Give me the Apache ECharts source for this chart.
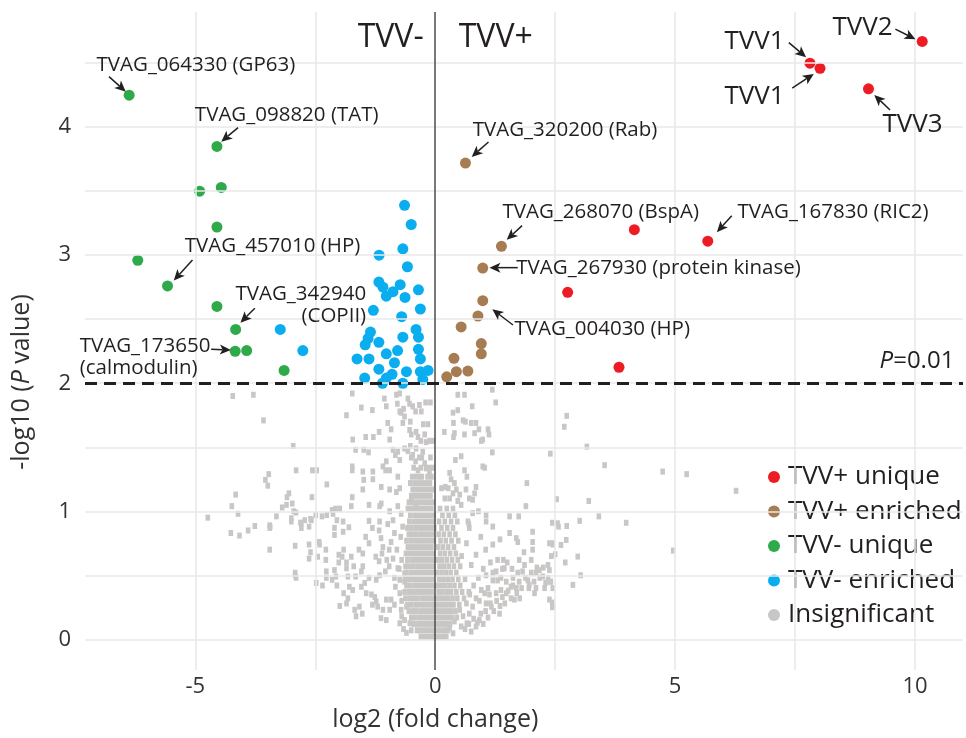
<!DOCTYPE html>
<html>
<head>
<meta charset="utf-8">
<script src="https://cdn.jsdelivr.net/npm/echarts@6/dist/echarts.min.js"></script>
<style>
  html, body { margin: 0; padding: 0; background: #ffffff; }
  #chart { width: 966px; height: 738px; }
</style>
</head>
<body>
<div id="chart"></div>
<script>
const FONT = '"Open Sans", "DejaVu Sans", sans-serif';
const INK = '#231f20';

// Group names, in legend order
const groupNames = ['TVV+ unique', 'TVV+ enriched', 'TVV- unique', 'TVV- enriched', 'Insignificant'];
const groupColors = ['#ed1c24', '#a67c52', '#2eaa4a', '#0aaeef', '#c9c7c6'];

// [log2 fold change, -log10 P]
const tvvPlusUnique = [[10.15,4.67],[7.81,4.50],[8.02,4.46],[9.03,4.30],[4.15,3.20],[5.68,3.11],[2.76,2.71],[3.83,2.125]];
const tvvPlusEnriched = [[0.63,3.72],[1.38,3.07],[0.99,2.90],[0.99,2.645],[0.89,2.525],[0.54,2.44],[0.96,2.31],[0.96,2.23],[0.39,2.195],[0.44,2.09],[0.68,2.095],[0.24,2.05]];
const tvvMinusUnique = [[-6.38,4.25],[-4.55,3.85],[-4.91,3.50],[-4.46,3.53],[-4.55,3.22],[-6.20,2.96],[-5.58,2.76],[-4.55,2.60],[-4.16,2.42],[-4.17,2.25],[-3.93,2.255],[-3.15,2.10]];
const tvvMinusEnriched = [[-0.64,3.39],[-0.50,3.24],[-1.17,3.00],[-0.675,3.05],[-0.58,2.91],[-1.175,2.79],[-1.09,2.75],[-1.02,2.68],[-0.88,2.715],[-0.73,2.77],[-0.63,2.67],[-0.35,2.73],[-0.31,2.58],[-1.29,2.57],[-0.70,2.52],[-0.40,2.42],[-0.35,2.36],[-0.675,2.36],[-1.35,2.40],[-1.40,2.35],[-1.46,2.30],[-1.175,2.32],[-0.785,2.255],[-0.35,2.265],[-1.02,2.23],[-1.63,2.19],[-1.38,2.19],[-0.85,2.16],[-0.31,2.19],[-1.175,2.11],[-0.60,2.09],[-0.31,2.09],[-0.15,2.10],[-1.47,2.04],[-0.90,2.07],[-1.02,2.04],[-0.675,2.00],[-1.10,2.00],[-0.26,2.03],[-3.23,2.42],[-2.76,2.255]];
const insignificant = [
  [-4.22,1.90],[-3.79,1.91],[-3.58,1.71],[-2.96,1.51],[-2.90,1.32],[-2.56,1.32],[-2.47,1.32],[-3.47,1.29],[-3.54,1.245],[-3.49,1.20],[-2.26,1.21],[-4.16,1.13],[-3.05,1.14],[-3.09,1.11],[-2.57,1.11],[-3.10,1.05],[-3.19,1.03],[-2.98,1.06],[-2.95,1.00],[-2.90,0.99],[-4.24,1.04],[-4.11,0.98],[-4.74,0.95],[-3.31,0.96],[-2.49,0.97],[-2.36,0.96],[-2.26,0.97],
  [-4.26,0.83],[-4.08,0.81],[-3.90,0.85],[-3.76,0.885],[-3.45,0.70],[-2.92,0.50],[-3.44,0.88],[-2.79,0.91],[-2.58,0.93],[-2.13,0.98],
  [-3.45,0.89],[-3.45,0.87],[-3.0,0.945],[-3.0,0.92],[-2.92,0.73],[-2.92,0.52],[-2.90,0.48],[-2.81,0.91],[-2.79,0.87],[-2.72,0.93],[-2.60,0.94],[-2.63,0.88],[-2.63,0.74],[-2.60,0.68],[-2.63,0.63],[-2.45,0.645],[-2.42,0.76],[-2.41,0.74],[-2.48,0.44],[-2.35,0.42],[-2.28,0.70],[-2.28,0.62],[-2.27,0.53],[-2.27,0.48],
  [-1.73,1.92],[-1.85,1.75],[-1.54,1.81],[-1.31,1.79],[-1.06,1.88],[-1.02,1.82],[-0.81,1.91],[-0.74,1.92],[-0.79,1.84],[-0.74,1.78],[-0.71,1.77],[-0.66,1.80],[-0.64,1.74],[-0.57,1.88],[-0.535,1.84],[-0.47,1.82],[-0.41,1.78],[-0.33,1.83],[-0.29,1.78],
  [-1.72,1.56],[-1.45,1.58],[-1.29,1.58],[-1.17,1.62],[-0.99,1.69],[-0.92,1.64],[-0.95,1.56],[-0.675,1.69],[-0.52,1.70],[-0.535,1.635],[-0.50,1.60],[-0.40,1.62],[-0.36,1.58],[-0.22,1.60],[-0.19,1.54],
  [-1.66,1.48],[-1.49,1.48],[-1.39,1.46],[-1.73,1.35],[-1.73,1.32],[-1.51,1.31],[-1.30,1.31],[-1.30,1.25],[-1.09,1.35],[-1.035,1.32],[-0.95,1.32],[-1.02,1.39],
  [-0.88,1.48],[-0.83,1.44],[-0.74,1.40],[-0.78,1.465],[-0.64,1.49],[-0.57,1.47],[-0.52,1.51],[-0.40,1.49],[-0.47,1.44],[-0.41,1.39],[-0.33,1.42],[-0.26,1.465],[-0.22,1.375],[-0.19,1.335],[-0.36,1.32],[-0.33,1.27],[-0.12,1.30],
  [-1.73,1.11],[-1.51,1.17],[-1.49,1.245],[-1.125,1.19],[-0.95,1.17],[-0.81,1.15],[-0.74,1.18],[-0.78,1.27],
  [-1.99,1.02],[-2.15,1.01],[-2.08,1.02],[-1.75,1.04],[-1.38,1.05],[-1.16,1.04],[-1.125,1.06],[-0.95,1.00],[-0.78,1.04],[-0.71,0.98],[-0.57,1.02],[-0.50,1.09],[-0.40,1.06],
  [-2.10,0.87],[-2.10,0.815],[-2.05,0.93],[-1.92,0.92],[-1.92,0.84],[-1.80,0.875],[-1.91,0.70],[-2.01,0.66],[-1.94,0.645],[-2.01,0.60],[-1.85,0.60],[-2.10,0.54],[-2.07,0.49],[-1.85,0.555],[-1.82,0.49],[-1.75,0.645],[-1.70,0.57],[-1.66,0.49],[-1.54,0.53],[-1.51,0.57],[-1.59,0.70],[-1.51,0.67],[-1.45,0.80],[-1.38,0.75],[-1.38,0.925],[-1.31,0.87],[-1.17,0.85],[-1.16,0.92],[-1.13,0.79],[-1.09,0.72],[-1.17,0.61],[-1.24,0.645],[-1.11,0.67],[-1.01,0.62],[-0.96,0.70],[-0.88,0.63],[-0.92,0.76],[-0.85,0.83],[-0.88,0.93],[-0.99,0.90],
  [-0.78,0.555],[-0.85,0.48],[-0.74,0.465],[-0.74,0.36],[-0.83,0.41],[-0.64,0.45],[-0.64,0.515],[-0.96,0.57],[-1.04,0.53],[-1.16,0.50],[-1.23,0.465],[-1.38,0.48],[-1.47,0.44],[-1.54,0.41],[-1.44,0.36],[-1.33,0.35],[-1.26,0.33],[-1.23,0.295],[-1.31,0.27],[-1.20,0.255],[-1.09,0.23],[-1.02,0.31],[-0.92,0.31],[-0.85,0.27],[-0.95,0.23],[-1.13,0.165],[-1.02,0.15],[-0.71,0.23],[-0.60,0.255],[-0.64,0.15],[-0.53,0.125],[-0.74,0.125],[-0.50,0.07],[-0.60,0.05],[-1.58,0.255],[-1.68,0.23],[-1.65,0.18],[-1.52,0.20],[-1.85,0.28],[-1.99,0.26],[-1.91,0.36],[-2.05,0.42],[-1.79,0.41],[-1.72,0.385],[-1.82,0.32],[-2.15,0.465],
  [-0.70,0.30],[-0.75,0.55],[-0.70,0.62],[-0.72,0.80],[-0.68,0.88],[-0.80,0.70],[-0.70,0.18],[-0.66,0.08],
  [-0.30,0.02],[-0.22,0.02],[-0.15,0.02],[-0.08,0.02],[-0.02,0.02],
  [-0.38,0.07],[-0.31,0.07],[-0.24,0.07],[-0.17,0.07],[-0.10,0.07],[-0.04,0.07],
  [-0.45,0.12],[-0.37,0.12],[-0.29,0.12],[-0.21,0.12],[-0.13,0.12],[-0.06,0.12],
  [-0.50,0.17],[-0.42,0.17],[-0.33,0.17],[-0.26,0.17],[-0.18,0.17],[-0.11,0.17],[-0.03,0.17],
  [-0.55,0.22],[-0.46,0.22],[-0.39,0.22],[-0.30,0.22],[-0.22,0.22],[-0.14,0.22],[-0.06,0.22],
  [-0.58,0.27],[-0.50,0.27],[-0.41,0.27],[-0.34,0.27],[-0.25,0.27],[-0.17,0.27],[-0.09,0.27],[-0.02,0.27],
  [-0.62,0.32],[-0.53,0.32],[-0.45,0.32],[-0.37,0.32],[-0.28,0.32],[-0.20,0.32],[-0.12,0.32],[-0.05,0.32],
  [-0.64,0.37],[-0.55,0.37],[-0.47,0.37],[-0.39,0.37],[-0.31,0.37],[-0.23,0.37],[-0.15,0.37],[-0.07,0.37],
  [-0.60,0.42],[-0.52,0.42],[-0.43,0.42],[-0.35,0.42],[-0.27,0.42],[-0.19,0.42],[-0.11,0.42],[-0.03,0.42],
  [-0.63,0.47],[-0.55,0.47],[-0.46,0.47],[-0.38,0.47],[-0.30,0.47],[-0.22,0.47],[-0.14,0.47],[-0.06,0.47],
  [-0.60,0.52],[-0.51,0.52],[-0.42,0.52],[-0.34,0.52],[-0.26,0.52],[-0.18,0.52],[-0.10,0.52],[-0.03,0.52],
  [-0.62,0.57],[-0.54,0.57],[-0.46,0.57],[-0.37,0.57],[-0.29,0.57],[-0.21,0.57],[-0.13,0.57],[-0.05,0.57],
  [-0.58,0.62],[-0.49,0.62],[-0.41,0.62],[-0.33,0.62],[-0.25,0.62],[-0.17,0.62],[-0.09,0.62],[-0.02,0.62],
  [-0.61,0.67],[-0.52,0.67],[-0.44,0.67],[-0.36,0.67],[-0.28,0.67],[-0.20,0.67],[-0.12,0.67],[-0.04,0.67],
  [-0.57,0.72],[-0.48,0.72],[-0.40,0.72],[-0.32,0.72],[-0.24,0.72],[-0.16,0.72],[-0.08,0.72],
  [-0.60,0.77],[-0.51,0.77],[-0.43,0.77],[-0.35,0.77],[-0.27,0.77],[-0.19,0.77],[-0.11,0.77],[-0.03,0.77],
  [-0.55,0.82],[-0.47,0.82],[-0.39,0.82],[-0.30,0.82],[-0.22,0.82],[-0.14,0.82],[-0.06,0.82],
  [-0.58,0.87],[-0.50,0.87],[-0.41,0.87],[-0.33,0.87],[-0.25,0.87],[-0.17,0.87],[-0.09,0.87],[-0.02,0.87],
  [-0.54,0.92],[-0.45,0.92],[-0.37,0.92],[-0.29,0.92],[-0.21,0.92],[-0.13,0.92],[-0.05,0.92],
  [-0.52,0.97],[-0.43,0.97],[-0.35,0.97],[-0.27,0.97],[-0.19,0.97],[-0.11,0.97],[-0.03,0.97],
  [-0.48,1.02],[-0.40,1.02],[-0.32,1.02],[-0.24,1.02],[-0.16,1.02],[-0.08,1.02],
  [-0.55,1.07],[-0.46,1.07],[-0.37,1.07],[-0.29,1.07],[-0.21,1.07],[-0.13,1.07],[-0.05,1.07],
  [-0.50,1.12],[-0.42,1.12],[-0.34,1.12],[-0.26,1.12],[-0.18,1.12],[-0.10,1.12],
  [-0.47,1.17],[-0.39,1.17],[-0.31,1.17],[-0.23,1.17],[-0.15,1.17],[-0.07,1.17],
  [-0.52,1.22],[-0.43,1.22],[-0.35,1.22],[-0.27,1.22],[-0.19,1.22],[-0.11,1.22],
  [-0.48,1.27],[-0.40,1.27],[-0.28,1.27],[-0.16,1.27],[-0.08,1.27],
  [-0.45,1.34],[-0.30,1.34],[-0.14,1.34],[-0.06,1.34],[-0.50,1.42],[-0.28,1.42],[-0.10,1.42],
  [-0.30,1.55],[-0.12,1.55],[-0.05,1.55],[-0.25,1.68],[-0.15,1.68],[-0.20,1.85],[-0.10,1.85],
  [0.03,0.02],[0.10,0.02],[0.17,0.02],
  [0.05,0.07],[0.12,0.07],[0.19,0.07],[0.26,0.07],
  [0.03,0.12],[0.10,0.12],[0.17,0.12],[0.24,0.12],[0.31,0.12],
  [0.06,0.17],[0.13,0.17],[0.20,0.17],[0.28,0.17],[0.35,0.17],[0.45,0.17],
  [0.03,0.22],[0.10,0.22],[0.17,0.22],[0.25,0.22],[0.33,0.22],[0.42,0.22],
  [0.06,0.27],[0.14,0.27],[0.22,0.27],[0.30,0.27],[0.38,0.27],[0.50,0.27],
  [0.03,0.32],[0.11,0.32],[0.19,0.32],[0.27,0.32],[0.36,0.32],[0.46,0.32],[0.60,0.32],
  [0.07,0.37],[0.15,0.37],[0.24,0.37],[0.33,0.37],[0.44,0.37],[0.56,0.37],[0.70,0.37],
  [0.04,0.42],[0.12,0.42],[0.21,0.42],[0.30,0.42],[0.40,0.42],[0.52,0.42],
  [0.08,0.47],[0.17,0.47],[0.26,0.47],[0.36,0.47],[0.48,0.47],[0.62,0.47],
  [0.04,0.52],[0.13,0.52],[0.22,0.52],[0.32,0.52],[0.44,0.52],
  [0.09,0.57],[0.18,0.57],[0.28,0.57],[0.39,0.57],[0.52,0.57],
  [0.05,0.62],[0.14,0.62],[0.24,0.62],[0.35,0.62],[0.47,0.62],
  [0.10,0.67],[0.20,0.67],[0.31,0.67],[0.43,0.67],
  [0.06,0.72],[0.16,0.72],[0.27,0.72],[0.39,0.72],
  [0.11,0.77],[0.22,0.77],[0.34,0.77],[0.48,0.77],
  [0.07,0.82],[0.18,0.82],[0.30,0.82],[0.42,0.82],
  [0.13,0.87],[0.25,0.87],[0.37,0.87],
  [0.08,0.92],[0.20,0.92],[0.33,0.92],[0.46,0.92],
  [0.15,0.97],[0.28,0.97],[0.41,0.97],
  [0.10,1.02],[0.24,1.02],[0.37,1.02],[0.20,1.10],[0.30,1.10],[0.13,1.18],[0.27,1.18],
  [0.47,1.91],[0.61,1.91],[1.19,1.95],[1.26,1.85],[0.77,1.82],[0.37,1.77],[0.47,1.79],[0.19,1.62],[0.38,1.69],[0.40,1.61],[0.38,1.58],[0.58,1.71],[0.63,1.70],[0.61,1.60],[0.75,1.69],[0.85,1.69],[0.91,1.64],[0.82,1.61],[0.99,1.56],[0.96,1.55],[1.10,1.64],[1.12,1.60],[1.19,1.46],
  [0.42,1.40],[0.54,1.43],[0.30,1.30],[0.61,1.32],[0.66,1.27],[0.33,1.25],[0.40,1.22],[0.21,1.19],[0.64,1.17],[0.85,1.19],[0.82,1.14],[0.99,1.35],[1.03,1.34],[0.44,1.17],[0.51,1.13],[0.37,1.14],[0.47,1.08],[0.54,1.05],[0.71,1.10],[0.78,1.09],[1.91,1.22],[1.89,1.04],[2.40,1.45],
  [0.78,0.985],[1.06,0.97],[1.06,0.92],[1.55,0.96],[1.74,0.96],[0.68,0.92],[0.71,0.87],[1.20,0.74],[1.55,0.83],[1.69,0.79],[1.72,0.76],[2.03,0.84],[2.03,0.76],[2.03,0.70],[2.00,0.62],[1.86,0.58],[2.38,0.75],[2.45,0.74],[2.42,0.65],
  [1.15,0.60],[1.30,0.62],[1.42,0.62],[1.44,0.555],[1.27,0.53],[1.06,0.50],[1.20,0.46],[1.37,0.48],[1.48,0.45],[1.62,0.48],[1.72,0.52],[1.82,0.53],[1.93,0.46],[2.10,0.52],[2.17,0.54],[2.24,0.49],[2.35,0.48],[2.40,0.45],
  [0.96,0.385],[1.03,0.36],[1.13,0.35],[1.27,0.36],[1.37,0.385],[1.48,0.36],[1.58,0.41],[1.69,0.40],[1.76,0.32],[1.65,0.31],[2.07,0.36],[2.10,0.40],[1.96,0.425],[2.28,0.40],[2.38,0.31],[2.46,0.255],
  [0.85,0.32],[0.92,0.30],[1.06,0.28],[1.17,0.255],[1.34,0.20],[0.78,0.255],[0.71,0.20],[0.58,0.18],[0.51,0.23],[0.92,0.15],[0.85,0.10],[0.66,0.125],[0.54,0.10],[0.40,0.14],[0.30,0.086],[0.37,0.047],[0.23,0.021],
  [0.62,0.08],[0.70,0.12],[0.75,0.06],[0.80,0.16],[0.88,0.13],[0.95,0.20],[1.00,0.12],[1.05,0.22],[1.10,0.17],[1.15,0.28],[1.22,0.22],[1.28,0.30],[1.35,0.26],[1.40,0.33],[1.45,0.28],[1.52,0.38],[1.58,0.32],[1.62,0.42],[1.70,0.36],[1.75,0.45],[1.80,0.40],[1.88,0.48],[1.95,0.40],[2.00,0.52],[2.06,0.45],[2.12,0.56],[2.18,0.48],[2.25,0.56],[2.30,0.44],[2.35,0.58],
  [0.65,0.28],[0.72,0.35],[0.80,0.42],[0.90,0.48],[1.00,0.55],[1.10,0.40],[1.20,0.52],[1.30,0.46],[1.40,0.55],[1.50,0.60],[1.60,0.55],[1.75,0.62],[1.85,0.68],[0.55,0.65],[0.65,0.75],[0.75,0.58],[0.85,0.66],[0.95,0.80],[1.05,0.70],[0.70,0.90],[0.90,1.00],[1.20,0.88],[1.35,0.78],
  [2.74,1.745],[2.69,1.66],[3.16,1.505],[3.53,1.36],[4.74,1.31],[5.24,1.29],[6.27,1.16],[2.53,1.094],[3.20,1.08],[3.41,0.96],[3.98,0.91],[2.44,0.91],[2.55,0.906],[2.57,0.88],[2.74,0.885],[3.01,0.925],[2.44,0.75],[2.62,0.737],[2.73,0.776],[2.50,0.664],[2.97,0.646],[2.71,0.60],[4.96,0.693],[3.03,0.50],[2.87,0.425],[2.41,0.45],[2.45,0.40],[2.44,0.287],[2.44,0.25],[2.38,0.54]
];

// Axis ticks and reference lines
const xTickValues = [-5, 0, 5, 10];
const yTickValues = [0, 1, 2, 3, 4];
const xGridValues = [-5, -2.5, 2.5, 5, 7.5, 10];
const yGridValues = [0, 0.5, 1, 1.5, 2, 2.5, 3, 3.5, 4, 4.5];
const significanceLine = 2; // -log10(0.01)

// Callout labels: [text, x, y, alignment, font size]
const calloutLabels = [
  ['TVAG_064330 (GP63)', -7.06, 4.487, 'left', 20.5],
  ['TVAG_098820 (TAT)', -5.01, 4.096, 'left', 20.5],
  ['TVAG_457010 (HP)', -5.22, 3.07, 'left', 20.5],
  ['TVAG_342940\n(COPII)', -1.44, 2.61, 'right', 20.5],
  ['TVAG_173650\n(calmodulin)', -7.41, 2.20, 'left', 20.5],
  ['TVAG_320200 (Rab)', 0.78, 3.98, 'left', 20.5],
  ['TVAG_268070 (BspA)', 1.40, 3.34, 'left', 20.5],
  ['TVAG_167830 (RIC2)', 6.30, 3.34, 'left', 20.5],
  ['TVAG_267930 (protein kinase)', 1.69, 2.90, 'left', 20.5],
  ['TVAG_004030 (HP)', 1.65, 2.425, 'left', 20.5],
  ['TVV1', 6.03, 4.67, 'left', 26],
  ['TVV1', 6.03, 4.24, 'left', 26],
  ['TVV2', 8.28, 4.78, 'left', 26],
  ['TVV3', 9.32, 4.02, 'left', 26],
  ['TVV-', -0.24, 4.70, 'right', 32],
  ['TVV+', 0.49, 4.70, 'left', 32]
];
// Callout arrows: [fromX, fromY, toX, toY]
const calloutArrows = [
  [-6.80, 4.395, -6.45, 4.278],
  [-4.11, 3.997, -4.46, 3.887],
  [-5.06, 2.963, -5.45, 2.802],
  [-3.76, 2.586, -4.06, 2.473],
  [-4.67, 2.266, -4.26, 2.26],
  [1.11, 3.885, 0.76, 3.768],
  [1.81, 3.231, 1.49, 3.12],
  [6.18, 3.309, 5.87, 3.18],
  [1.72, 2.903, 1.13, 2.903],
  [1.62, 2.455, 1.19, 2.578],
  [7.37, 4.661, 7.73, 4.547],
  [7.44, 4.305, 7.89, 4.416],
  [9.59, 4.766, 10.01, 4.688],
  [9.48, 4.135, 9.15, 4.252]
];
const thresholdLabel = { x: 10.82, y: 2.17 };

const chart = echarts.init(document.getElementById('chart'), null, { renderer: 'canvas' });

function tickFilter(list) {
  return function (v) {
    for (const t of list) { if (Math.abs(t - v) < 1e-9) return String(t); }
    return '';
  };
}

const groupData = [tvvPlusUnique, tvvPlusEnriched, tvvMinusUnique, tvvMinusEnriched, insignificant];
const pointSeries = groupNames.map((name, i) => {
  const isGray = name === 'Insignificant';
  return {
    name: name,
    type: 'scatter',
    data: groupData[i],
    symbol: isGray ? 'rect' : 'circle',
    symbolSize: isGray ? [4.6, 6] : 11,
    itemStyle: { color: groupColors[i], opacity: 1 },
    z: isGray ? 3 : 4,
    silent: true
  };
});
// gray first so colored points sit on top
const orderedPoints = [pointSeries[4], pointSeries[0], pointSeries[1], pointSeries[2], pointSeries[3]];

const option = {
  animation: false,
  backgroundColor: '#ffffff',
  textStyle: { fontFamily: FONT },
  grid: { left: 85, right: 3, top: 12, bottom: 68, containLabel: false },
  xAxis: {
    type: 'value', min: -7.3, max: 11,
    axisLine: { show: false }, axisTick: { show: false }, splitLine: { show: false },
    axisLabel: { customValues: xTickValues, formatter: tickFilter(xTickValues), fontSize: 22, color: '#333333', margin: 6, fontFamily: FONT }
  },
  yAxis: {
    type: 'value', min: -0.24, max: 4.9,
    axisLine: { show: false }, axisTick: { show: false }, splitLine: { show: false },
    axisLabel: { customValues: yTickValues, formatter: tickFilter(yTickValues), fontSize: 22, color: '#333333', margin: 14, fontFamily: FONT }
  },
  legend: {
    orient: 'vertical', left: 763, top: 457,
    icon: 'circle', itemWidth: 12, itemHeight: 12, itemGap: 4.5,
    data: groupNames,
    selectedMode: false,
    textStyle: { fontSize: 26, color: INK, fontFamily: FONT, lineHeight: 30, padding: [0, 0, 0, 3] }
  },
  series: [
    {
      type: 'scatter', data: [], silent: true, z: 1,
      markLine: {
        silent: true, symbol: 'none', animation: false,
        label: { show: false },
        lineStyle: { color: '#e9e9e9', width: 1.6, type: 'solid' },
        data: xGridValues.map(v => ({ xAxis: v })).concat(yGridValues.map(v => ({ yAxis: v })))
      }
    },
    {
      type: 'scatter', data: [], silent: true, z: 2,
      markLine: {
        silent: true, symbol: 'none', animation: false,
        label: { show: false },
        lineStyle: { color: '#4d4d4d', width: 1.5, type: 'solid' },
        data: [{ xAxis: 0 }]
      }
    },
    ...orderedPoints,
    {
      type: 'scatter', data: [], silent: true, z: 6,
      markLine: {
        silent: true, symbol: 'none', animation: false,
        label: { show: false },
        lineStyle: { color: INK, width: 3, type: [12, 7] },
        data: [{ yAxis: significanceLine }]
      }
    }
  ]
};
chart.setOption(option);

// Callouts, arrows and axis titles, positioned from data coordinates
function px(x, y) { return chart.convertToPixel({ gridIndex: 0 }, [x, y]); }
const graphics = [];
calloutLabels.forEach(([text, x, y, align, size]) => {
  const p = px(x, y);
  graphics.push({
    type: 'text', x: p[0], y: p[1], z: 10, silent: true,
    style: { text: text, fill: INK, font: size + 'px ' + FONT, align: align, verticalAlign: 'middle', lineHeight: Math.round(size * 1.05) }
  });
});
calloutArrows.forEach(([x1, y1, x2, y2]) => {
  const a = px(x1, y1), b = px(x2, y2);
  const dx = b[0] - a[0], dy = b[1] - a[1];
  const len = Math.hypot(dx, dy);
  const ux = dx / len, uy = dy / len, nx = -uy, ny = ux;
  const L = 11, W = 5;
  const base = [b[0] - ux * L, b[1] - uy * L];
  const notch = [b[0] - ux * L * 0.75, b[1] - uy * L * 0.75];
  graphics.push({
    type: 'line', z: 10, silent: true,
    shape: { x1: a[0], y1: a[1], x2: notch[0], y2: notch[1] },
    style: { stroke: INK, lineWidth: 1.5 }
  });
  graphics.push({
    type: 'polygon', z: 10, silent: true,
    shape: { points: [b, [base[0] + nx * W, base[1] + ny * W], notch, [base[0] - nx * W, base[1] - ny * W]] },
    style: { fill: INK }
  });
});
const tp = px(thresholdLabel.x, thresholdLabel.y);
graphics.push({
  type: 'text', x: tp[0], y: tp[1], z: 10, silent: true,
  style: {
    text: '{i|P}=0.01', fill: INK, font: '24px ' + FONT, align: 'right', verticalAlign: 'middle',
    rich: { i: { fontStyle: 'italic', fontSize: 24, fontFamily: FONT, fill: INK } }
  }
});
const xt = px(0, -0.24);
graphics.push({
  type: 'text', x: xt[0], y: xt[1] + 50, z: 10, silent: true,
  style: { text: 'log2 (fold change)', fill: '#333333', font: '25px ' + FONT, align: 'center', verticalAlign: 'middle' }
});
graphics.push({
  type: 'text', x: 22, y: 382, rotation: Math.PI / 2, z: 10, silent: true,
  style: {
    text: '-log10 ({i|P} value)', fill: '#333333', font: '25px ' + FONT, align: 'center', verticalAlign: 'middle',
    rich: { i: { fontStyle: 'italic', fontSize: 25, fontFamily: FONT, fill: '#333333' } }
  }
});
chart.setOption({ graphic: graphics });
</script>
</body>
</html>
